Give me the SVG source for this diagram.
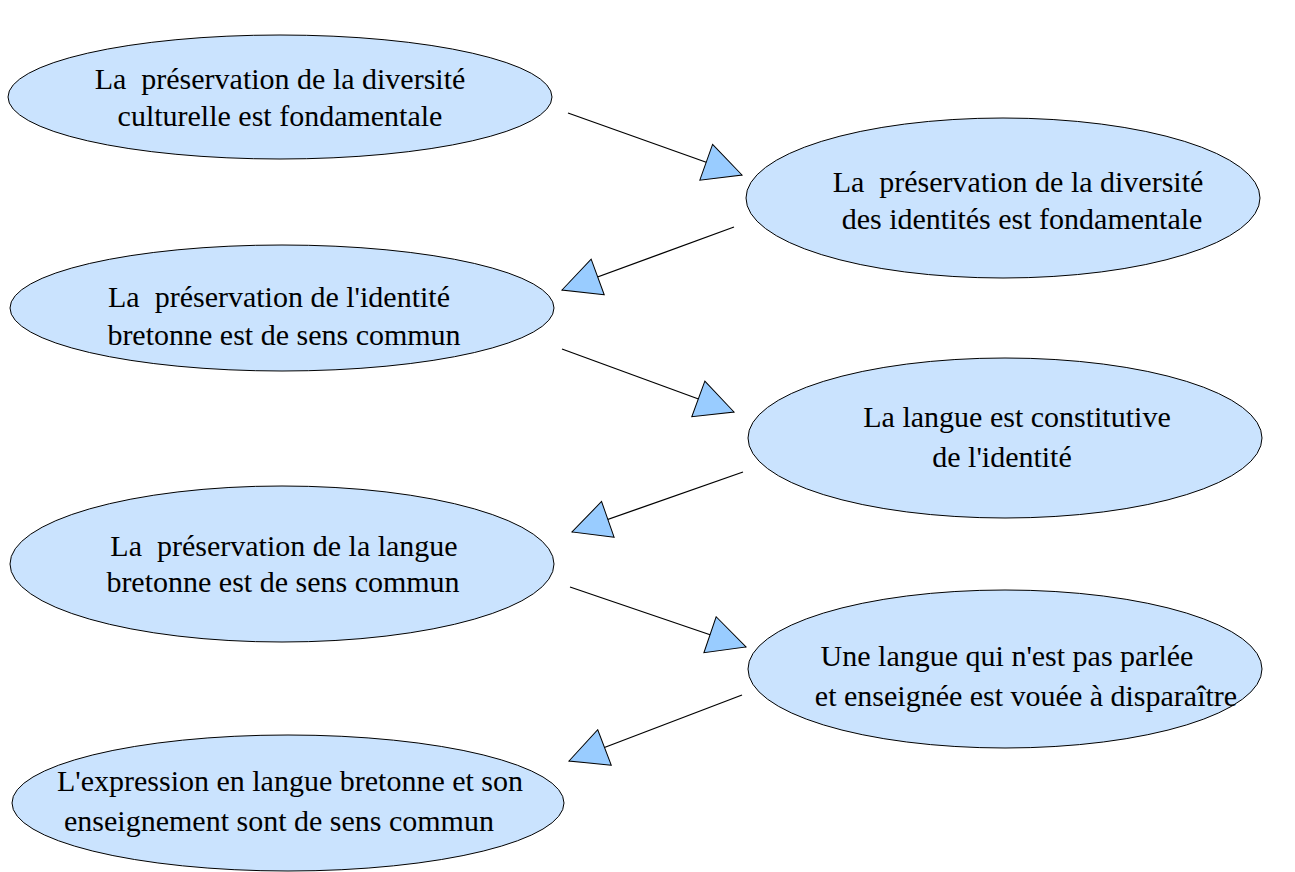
<svg xmlns="http://www.w3.org/2000/svg" width="1295" height="872" viewBox="0 0 1295 872">
<style>
.node ellipse{fill:#cae3fe;stroke:#000;stroke-width:1}
.node text{font-family:'Liberation Serif','Times New Roman',serif;font-size:30px;fill:#000;text-anchor:middle;white-space:pre}
.conn line{stroke:#000;stroke-width:1.3}
</style>
<defs>
<marker id="ah" viewBox="0 0 40 40" markerWidth="40" markerHeight="40" markerUnits="userSpaceOnUse" refX="39" refY="20" orient="auto">
<path d="M1,1 L39,20 L1,39 Z" fill="#99ccff" stroke="#000" stroke-width="1"/>
</marker>
</defs>
<rect width="1295" height="872" fill="#fff"/>
<g id="connectors" class="conn">
<line x1="568" y1="113" x2="742" y2="175" marker-end="url(#ah)"/>
<line x1="734" y1="227" x2="562" y2="290" marker-end="url(#ah)"/>
<line x1="562" y1="349" x2="734" y2="412" marker-end="url(#ah)"/>
<line x1="743" y1="472" x2="572" y2="532" marker-end="url(#ah)"/>
<line x1="570" y1="587" x2="746" y2="647" marker-end="url(#ah)"/>
<line x1="742" y1="695" x2="569" y2="761" marker-end="url(#ah)"/>
</g>
<g id="n1" class="node" font-family="Liberation Serif, serif">
<ellipse cx="280" cy="97" rx="272" ry="62"/>
<text x="280" y="89">La  préservation de la diversité</text>
<text x="280" y="126">culturelle est fondamentale</text>
</g>
<g id="n2" class="node" font-family="Liberation Serif, serif">
<ellipse cx="1003" cy="198" rx="257" ry="80"/>
<text x="1018" y="192">La  préservation de la diversité</text>
<text x="1022" y="229">des identités est fondamentale</text>
</g>
<g id="n3" class="node" font-family="Liberation Serif, serif">
<ellipse cx="282" cy="308" rx="272" ry="63"/>
<text x="279" y="307">La  préservation de l'identité</text>
<text x="284" y="345">bretonne est de sens commun</text>
</g>
<g id="n4" class="node" font-family="Liberation Serif, serif">
<ellipse cx="1005" cy="438" rx="257" ry="80"/>
<text x="1017" y="427">La langue est constitutive</text>
<text x="1002" y="467">de l'identité</text>
</g>
<g id="n5" class="node" font-family="Liberation Serif, serif">
<ellipse cx="282" cy="564" rx="272" ry="78"/>
<text x="284" y="556">La  préservation de la langue</text>
<text x="283" y="592">bretonne est de sens commun</text>
</g>
<g id="n6" class="node" font-family="Liberation Serif, serif">
<ellipse cx="1005" cy="669" rx="257" ry="79"/>
<text x="1007" y="666">Une langue qui n'est pas parlée</text>
<text x="1026" y="706">et enseignée est vouée à disparaître</text>
</g>
<g id="n7" class="node" font-family="Liberation Serif, serif">
<ellipse cx="288" cy="803" rx="276" ry="68"/>
<text x="290" y="791">L'expression en langue bretonne et son</text>
<text x="279" y="831">enseignement sont de sens commun</text>
</g>
</svg>
